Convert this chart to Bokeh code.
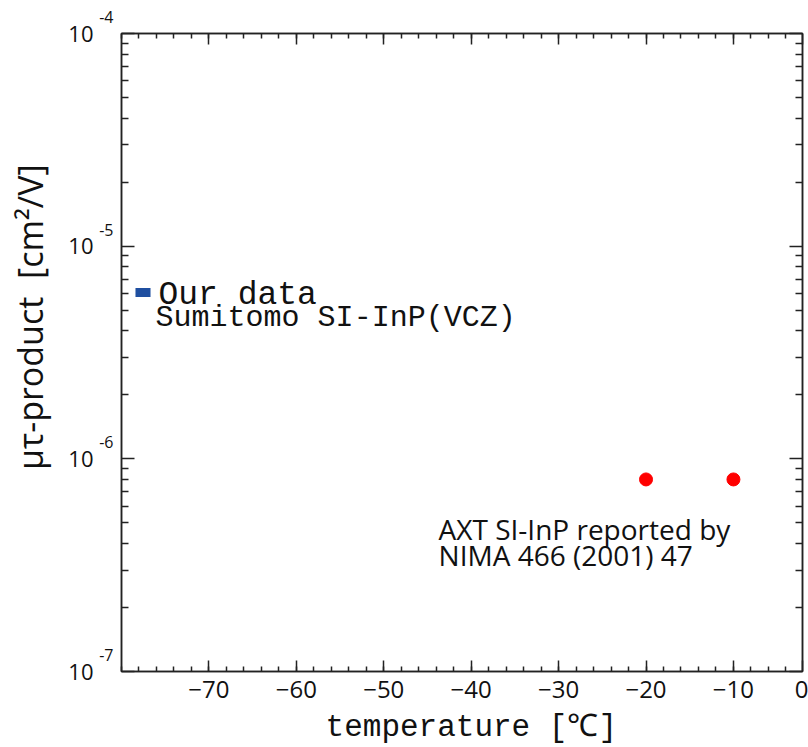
import math
from bokeh.plotting import figure
from bokeh.models import (FixedTicker, LinearAxis, LogAxis, Label, BoxAnnotation,
                          CustomJSTickFormatter)
from bokeh.embed import file_html
from bokeh.resources import INLINE

# ---- data ----
axt_temp = [-20, -10]              # degC
axt_mutau = [8.0e-7, 8.0e-7]       # cm^2/V

x_end = -2.1                       # right end of the temperature axis, labelled "0"
x_major = [-70, -60, -50, -40, -30, -20, -10, x_end]
x_major_labels = ["\u221270", "\u221260", "\u221250", "\u221240", "\u221230",
                  "\u221220", "\u221210", "0"]
x_minor = list(range(-80, -1, 2))
y_major = [1e-7, 1e-6, 1e-5, 1e-4]
y_mantissa = ["10", "10", "10", "10"]
y_exponent = ["-7", "-6", "-5", "-4"]
y_minor = [k * 10.0 ** e for e in (-7, -6, -5) for k in range(2, 10)]

TICK_FONT = "Open Sans"
MONO = "Liberation Mono"
AXC = "#222222"
TXT = "#111111"
NB = "\u00a0"

p = figure(width=808, height=747, y_axis_type="log",
           x_range=(-80, x_end), y_range=(1e-7, 1e-4),
           output_backend="svg", toolbar_location=None,
           min_border_left=121, min_border_right=6,
           min_border_top=33, min_border_bottom=75)
p.grid.visible = False
p.outline_line_color = AXC
p.outline_line_width = 1.5
p.background_fill_color = "white"
p.border_fill_color = "white"

xt = FixedTicker(ticks=x_major, minor_ticks=x_minor)
yt = FixedTicker(ticks=y_major, minor_ticks=y_minor)
blank = CustomJSTickFormatter(code="return '';")

def log_lookup(labels, suffix=""):
    return CustomJSTickFormatter(
        args=dict(tvals=y_major, tlabels=labels, suf=suffix),
        code="""
let best = 0, bd = Infinity;
for (let i = 0; i < tvals.length; i++) {
  const d = Math.abs(Math.log10(tvals[i]) - Math.log10(tick));
  if (d < bd) { bd = d; best = i; }
}
return tlabels[best] + suf;
""")

def style_common(ax, tin, tmin):
    ax.axis_line_color = AXC
    ax.axis_line_width = 1.5
    ax.major_tick_in = tin
    ax.major_tick_out = 0
    ax.minor_tick_in = tmin
    ax.minor_tick_out = 0
    ax.major_tick_line_color = AXC
    ax.minor_tick_line_color = AXC
    ax.major_tick_line_width = 1.5
    ax.minor_tick_line_width = 1.5

xa = p.xaxis[0]
xa.ticker = xt
style_common(xa, 11, 5)
xa.major_label_overrides = {t: s for t, s in zip(x_major, x_major_labels)}
xa.major_label_text_font = TICK_FONT
xa.major_label_text_font_size = "24px"
xa.major_label_text_color = TXT
xa.major_label_standoff = 9
xa.axis_label = NB + "temperature [\u2103]"
xa.axis_label_text_font = MONO
xa.axis_label_text_font_size = "31px"
xa.axis_label_text_font_style = "normal"
xa.axis_label_text_color = TXT
xa.axis_label_standoff = 9

# inner left axis: ticks + exponents (raised by a blank second line)
ya = p.yaxis[0]
ya.ticker = yt
style_common(ya, 13, 7)
ya.formatter = log_lookup(y_exponent, "\n" + NB)
ya.major_label_text_font = TICK_FONT
ya.major_label_text_font_size = "16px"
ya.major_label_text_line_height = 1.5
ya.major_label_text_color = TXT
ya.major_label_standoff = 8

# outer left axis: mantissas "10" and the axis title
ya2 = LogAxis(ticker=yt, formatter=log_lookup(y_mantissa))
ya2.axis_line_color = None
ya2.major_tick_line_color = None
ya2.minor_tick_line_color = None
ya2.major_tick_in = 0
ya2.major_tick_out = 0
ya2.minor_tick_in = 0
ya2.minor_tick_out = 0
ya2.major_label_text_font = TICK_FONT
ya2.major_label_text_font_size = "22px"
ya2.major_label_text_color = TXT
ya2.major_label_standoff = 3
ya2.axis_label = NB * 8 + "\u03bc\u03c4-product" + NB * 2 + "[cm\u00b2/V]"
ya2.axis_label_text_font = TICK_FONT
ya2.axis_label_text_font_size = "34px"
ya2.axis_label_text_font_style = "normal"
ya2.axis_label_text_color = TXT
ya2.axis_label_standoff = 12
p.add_layout(ya2, "left")

top_ax = LinearAxis(ticker=xt, formatter=blank)
style_common(top_ax, 11, 5)
p.add_layout(top_ax, "above")
right_ax = LogAxis(ticker=yt, formatter=blank)
style_common(right_ax, 13, 7)
p.add_layout(right_ax, "right")

# ---- marks ----
p.scatter(axt_temp, axt_mutau, size=13, marker="circle",
          fill_color="#ff0000", line_color="#ff0000")

# legend key of "Our data" (blue box) and its texts
p.add_layout(BoxAnnotation(left=-78.40, right=-76.68, top=6.35e-6, bottom=5.77e-6,
                           fill_color="#1f4fa0", fill_alpha=1.0, line_color=None))
p.add_layout(Label(x=-75.77, y=5.89e-6, text="Our data",
                   text_align="left", text_baseline="alphabetic",
                   text_font=MONO, text_font_size="33px", text_color=TXT))
p.add_layout(Label(x=-76.1, y=4.59e-6, text="Sumitomo SI-InP(VCZ)",
                   text_align="left", text_baseline="alphabetic",
                   text_font=MONO, text_font_size="30px", text_color=TXT))
p.add_layout(Label(x=-43.73, y=4.69e-7, text="AXT SI-InP reported by",
                   text_align="left", text_baseline="alphabetic",
                   text_font=TICK_FONT, text_font_size="28px", text_color=TXT))
p.add_layout(Label(x=-43.73, y=3.54e-7, text="NIMA 466 (2001) 47",
                   text_align="left", text_baseline="alphabetic",
                   text_font=TICK_FONT, text_font_size="28px", text_color=TXT))

open("out.html", "w").write(file_html(p, INLINE))
